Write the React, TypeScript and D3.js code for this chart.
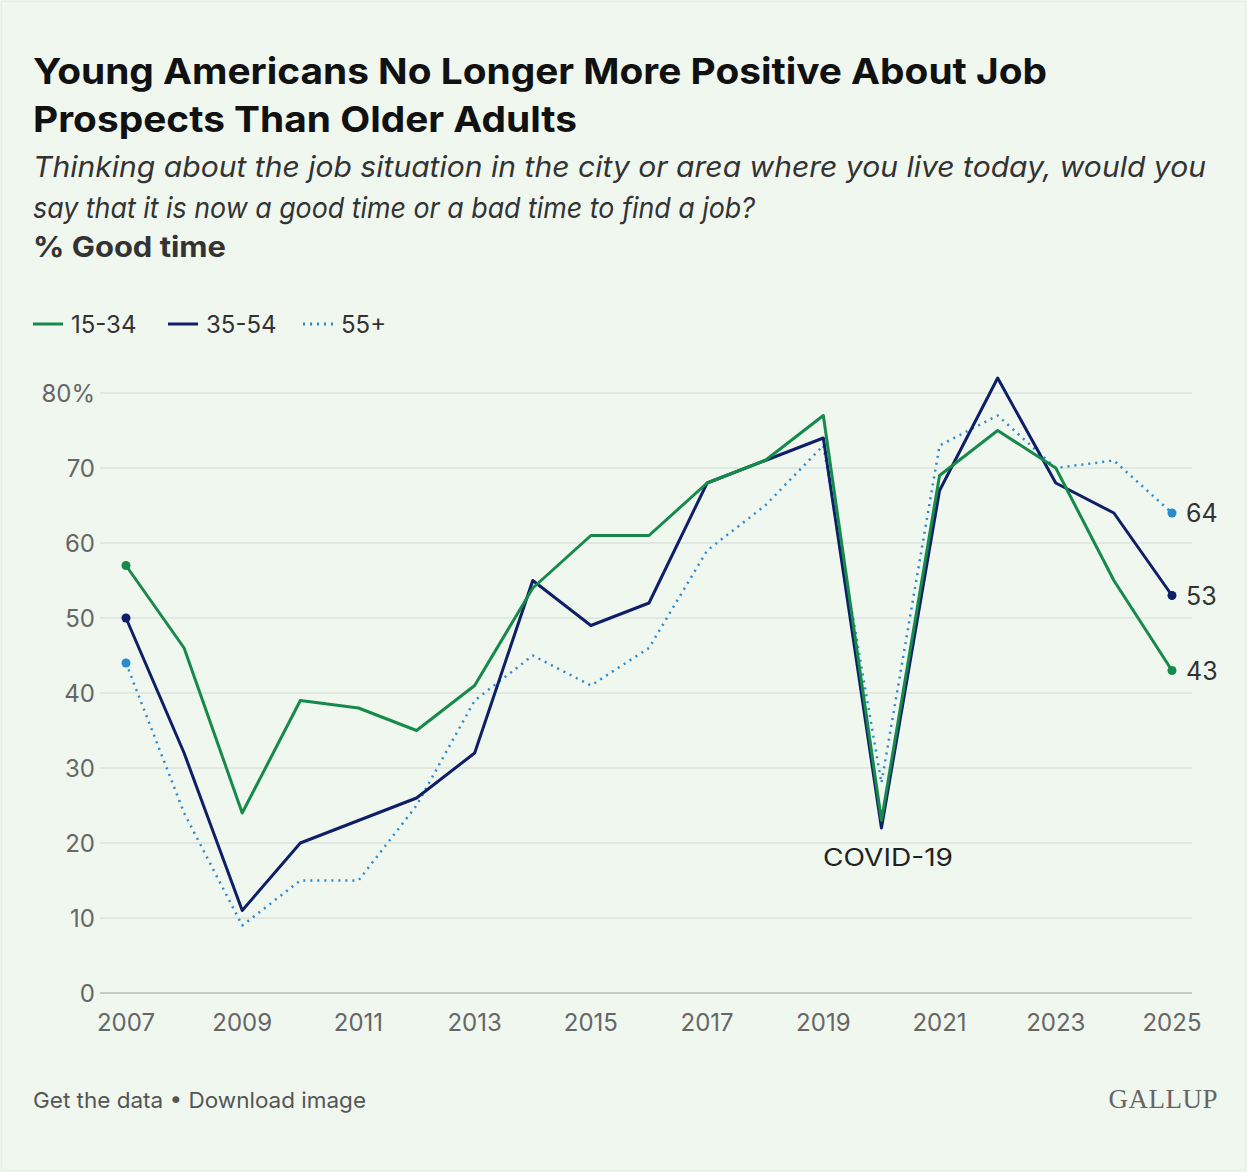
import React from 'react';
import * as d3 from 'd3';

const years = d3.range(2007, 2026);
const young = [57, 46, 24, 39, 38, 35, 41, 54, 61, 61, 68, 71, 77, 23, 69, 75, 70, 55, 43];
const middle = [50, 32, 11, 20, 23, 26, 32, 55, 49, 52, 68, 71, 74, 22, 67, 82, 68, 64, 53];
const older = [44, 24, 9, 15, 15, 25, 39, 45, 41, 46, 59, 65, 73, 28, 73, 77, 70, 71, 64];
const yTicks = [0, 10, 20, 30, 40, 50, 60, 70, 80];
const xTicks = [2007, 2009, 2011, 2013, 2015, 2017, 2019, 2021, 2023, 2025];

const series = [
  { name: '15-34', values: young, color: '#168a4a', dash: '' },
  { name: '35-54', values: middle, color: '#0d1f66', dash: '' },
  { name: '55+', values: older, color: '#2a8ad0', dash: '2,5' },
];

const font = 'Inter, "Open Sans", sans-serif';

export default function App() {
  const W = 1247, H = 1172;
  const x = d3.scaleLinear().domain([2007, 2025]).range([126, 1172]);
  const y = d3.scaleLinear().domain([0, 80]).range([993, 393]);
  const line = d3.line<number>().x((_, i) => x(years[i])).y(d => y(d));

  return (
    <svg width={W} height={H} style={{ position: 'absolute', left: 0, top: 0 }} fontFamily={font}>
      <rect x={1} y={1} width={W - 2} height={H - 2} fill="#f0f7ef" stroke="#dfe6de" />
      <text x={33} y={84} fontSize={36} fontWeight={700} fill="#111" textLength={1014} lengthAdjust="spacingAndGlyphs">Young Americans No Longer More Positive About Job</text>
      <text x={33} y={132} fontSize={36} fontWeight={700} fill="#111" textLength={544} lengthAdjust="spacingAndGlyphs">Prospects Than Older Adults</text>
      <text x={33} y={177} fontSize={29} fontStyle="italic" fill="#333" textLength={1173} lengthAdjust="spacingAndGlyphs">Thinking about the job situation in the city or area where you live today, would you</text>
      <text x={33} y={218} fontSize={29} fontStyle="italic" fill="#333" textLength={722} lengthAdjust="spacingAndGlyphs">say that it is now a good time or a bad time to find a job?</text>
      <text x={33} y={257} fontSize={28} fontWeight={700} fill="#333" textLength={193} lengthAdjust="spacingAndGlyphs">% Good time</text>

      {series.map((s, i) => {
        const lx = [33, 168, 303][i];
        return (
          <g key={s.name}>
            <line x1={lx} x2={lx + 30} y1={324} y2={324} stroke={s.color} strokeWidth={3} strokeDasharray={s.dash} />
            <text x={lx + 38} y={333} fontSize={24} fill="#333">{s.name}</text>
          </g>
        );
      })}

      {yTicks.map(t => (
        <g key={t}>
          <line x1={100} x2={1192} y1={y(t)} y2={y(t)} stroke={t === 0 ? '#bbb' : '#dde2dc'} strokeWidth={1.5} />
          <text x={95} y={y(t) + 9} fontSize={24} fill="#666" textAnchor="end">{t === 80 ? '80%' : t}</text>
        </g>
      ))}
      {xTicks.map(t => (
        <text key={t} x={x(t)} y={1031} fontSize={24} fill="#666" textAnchor="middle">{t}</text>
      ))}

      {series.slice().reverse().map(s => (
        <g key={s.name}>
          <path d={line(s.values) || ''} fill="none" stroke={s.color} strokeWidth={s.dash ? 2.5 : 3} strokeDasharray={s.dash} strokeLinejoin="round" />
          <circle cx={x(2007)} cy={y(s.values[0])} r={4.5} fill={s.color} />
          <circle cx={x(2025)} cy={y(s.values[18])} r={4.5} fill={s.color} />
          <text x={1186} y={y(s.values[18]) + 9} fontSize={25} fill="#333">{s.values[18]}</text>
        </g>
      ))}

      <text x={888} y={866} fontSize={24} fill="#222" textAnchor="middle" textLength={130} lengthAdjust="spacingAndGlyphs">COVID-19</text>

      <text x={33} y={1108} fontSize={22} fill="#555" textLength={333} lengthAdjust="spacingAndGlyphs">Get the data • Download image</text>
      <text x={1218} y={1108} fontSize={27} fill="#666" textAnchor="end" fontFamily="'Liberation Serif', serif" letterSpacing={0.5}>GALLUP</text>
    </svg>
  );
}
